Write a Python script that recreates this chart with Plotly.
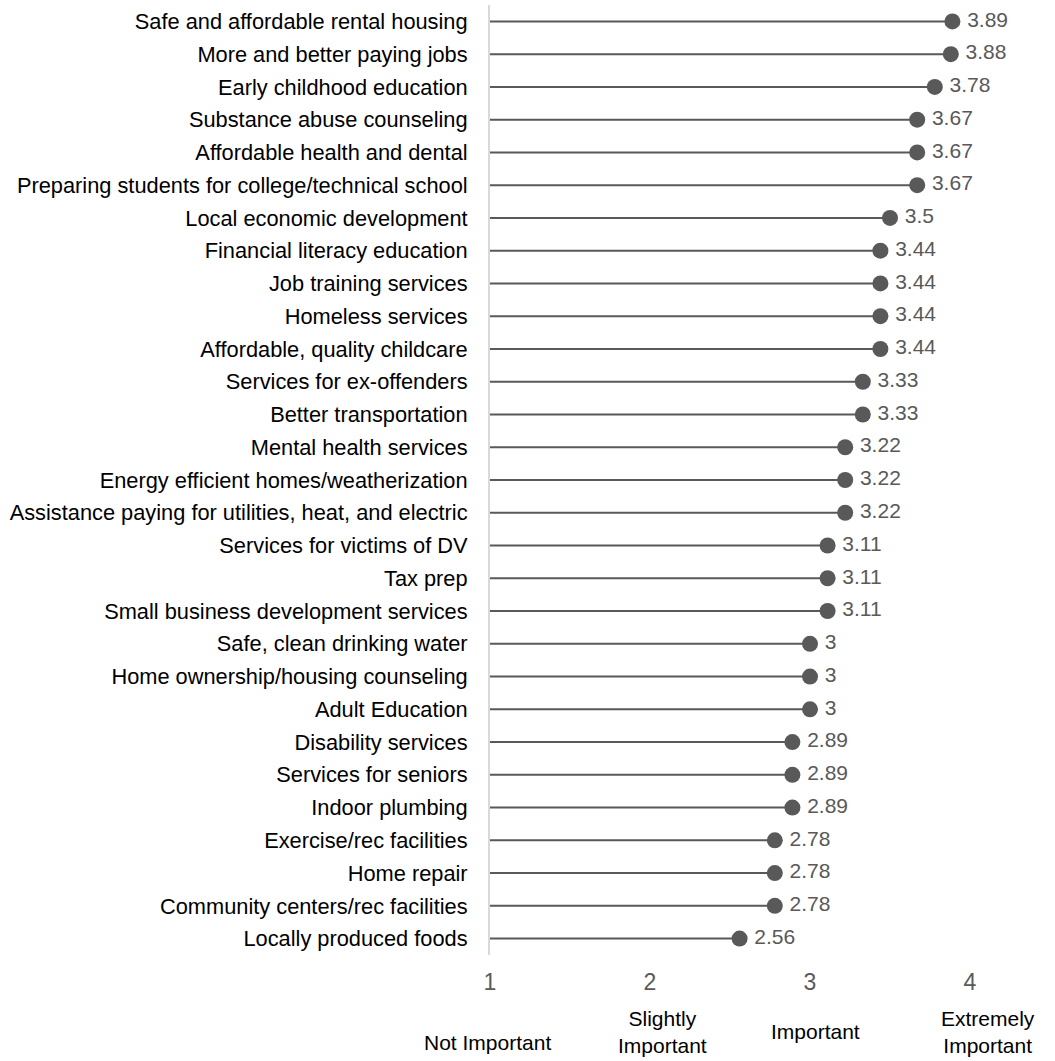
import plotly.graph_objects as go

categories = [
    "Safe and affordable rental housing",
    "More and better paying jobs",
    "Early childhood education",
    "Substance abuse counseling",
    "Affordable health and dental",
    "Preparing students for college/technical school",
    "Local economic development",
    "Financial literacy education",
    "Job training services",
    "Homeless services",
    "Affordable, quality childcare",
    "Services for ex-offenders",
    "Better transportation",
    "Mental health services",
    "Energy efficient homes/weatherization",
    "Assistance paying for utilities, heat, and electric",
    "Services for victims of DV",
    "Tax prep",
    "Small business development services",
    "Safe, clean drinking water",
    "Home ownership/housing counseling",
    "Adult Education",
    "Disability services",
    "Services for seniors",
    "Indoor plumbing",
    "Exercise/rec facilities",
    "Home repair",
    "Community centers/rec facilities",
    "Locally produced foods",
]
values = [3.89, 3.88, 3.78, 3.67, 3.67, 3.67, 3.5, 3.44, 3.44, 3.44, 3.44,
          3.33, 3.33, 3.22, 3.22, 3.22, 3.11, 3.11, 3.11, 3, 3, 3,
          2.89, 2.89, 2.89, 2.78, 2.78, 2.78, 2.56]
value_labels = ["3.89", "3.88", "3.78", "3.67", "3.67", "3.67", "3.5", "3.44", "3.44",
                "3.44", "3.44", "3.33", "3.33", "3.22", "3.22", "3.22", "3.11", "3.11",
                "3.11", "3", "3", "3", "2.89", "2.89", "2.89", "2.78", "2.78", "2.78", "2.56"]
x_ticks = [1, 2, 3, 4]
scale_labels = ["Not Important", "Slightly<br>Important", "Important", "Extremely<br>Important"]
baseline = 1

FONT = "Liberation Sans, Arial, sans-serif"
GRAY = "#595959"

line_x, line_y = [], []
for c, v in zip(categories, values):
    line_x += [baseline, v, None]
    line_y += [c, c, None]

fig = go.Figure()
fig.add_trace(go.Scatter(
    x=line_x, y=line_y, mode="lines",
    line=dict(color=GRAY, width=2), hoverinfo="skip", showlegend=False,
))
fig.add_trace(go.Scatter(
    x=values, y=categories, mode="markers",
    marker=dict(color=GRAY, size=16),
    showlegend=False,
))
# value labels (invisible marker used to offset the text from the dot)
fig.add_trace(go.Scatter(
    x=values, y=categories, mode="markers+text",
    marker=dict(color="rgba(0,0,0,0)", size=22),
    text=value_labels, textposition="middle right",
    textfont=dict(family=FONT, size=21, color=GRAY),
    hoverinfo="skip", showlegend=False,
))

ann = []
ypos = [1042, 1032, 1031, 1032]
xoff = [-3, 12, 5, 18]
H = 1061
for xv, lab, yp, dx in zip(x_ticks, scale_labels, ypos, xoff):
    ann.append(dict(x=xv, y=0, xref="x", yref="paper", text=lab, showarrow=False,
                    yanchor="middle", xanchor="center", yshift=-(yp - 955), xshift=dx,
                    font=dict(family=FONT, size=21, color="#000000")))

fig.update_layout(
    width=1055, height=H,
    margin=dict(l=490, r=37, t=5, b=106, autoexpand=False),
    plot_bgcolor="white", paper_bgcolor="white",
    font=dict(family=FONT),
    annotations=ann,
    xaxis=dict(range=[1, 4.3], tickvals=x_ticks, showgrid=False, zeroline=False,
               showline=False, ticks="", tickfont=dict(size=23, color=GRAY),
               ticklabelstandoff=11, automargin=False),
    yaxis=dict(type="category", categoryorder="array", categoryarray=categories,
               range=[len(categories) - 0.5, -0.5], showgrid=False, zeroline=False,
               showline=True, linecolor="#d9d9d9", linewidth=2, ticks="",
               tickfont=dict(size=21.8, color="#000000"), ticklabelstandoff=16,
               automargin=False),
)
fig.write_html("out.html", config={"displayModeBar": False},
               post_script="document.body.style.margin='0';document.body.style.overflow='hidden';")
